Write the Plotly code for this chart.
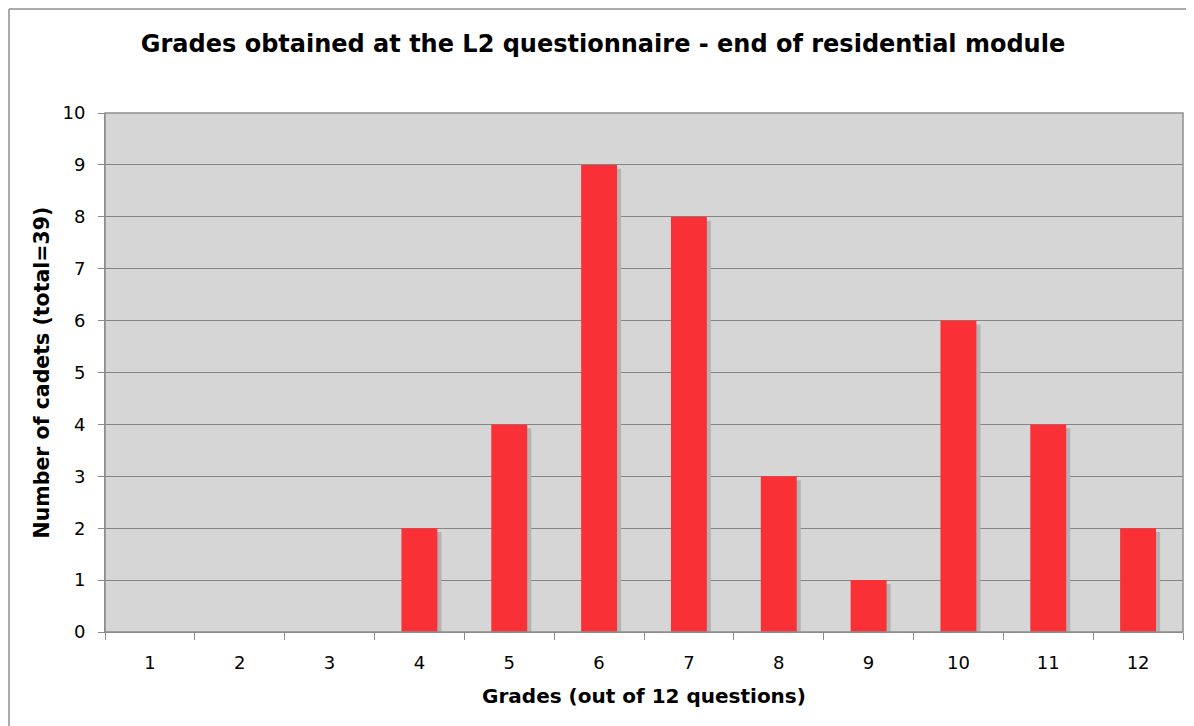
import plotly.graph_objects as go

grades = ["1", "2", "3", "4", "5", "6", "7", "8", "9", "10", "11", "12"]
cadets = [0, 0, 0, 2, 4, 9, 8, 3, 1, 6, 4, 2]
y_ticks = [0, 1, 2, 3, 4, 5, 6, 7, 8, 9, 10]

title_text = "Grades obtained at the L2 questionnaire - end of residential module"
x_title = "Grades (out of 12 questions)"
y_title = "Number of cadets (total=39)"

FONT = "DejaVu Sans"
BAR_RED = "#f93137"
SHADOW = "#b3b3b3"
GRID = "#858585"

W, H = 1186, 718
ML, MR, MT, MB = 97, 11, 105, 94
PW, PH = W - ML - MR, H - MT - MB

fig = go.Figure()

# shadow behind the bars
fig.add_trace(go.Bar(
    x=grades, y=cadets, base=-0.075,
    width=0.4, offset=-0.2 + 0.045,
    marker=dict(color=SHADOW, line=dict(width=0)),
    hoverinfo="skip", showlegend=False,
))
fig.add_trace(go.Bar(
    x=grades, y=cadets,
    width=0.4, offset=-0.2,
    marker=dict(color=BAR_RED, line=dict(width=0)),
    showlegend=False,
))

fx0 = -(ML - 1) / PW
fy1 = 1 + (MT - 1) / PH

fig.update_layout(
    width=W, height=H,
    barmode="overlay",
    paper_bgcolor="white",
    plot_bgcolor="#d6d6d6",
    margin=dict(l=ML, r=MR, t=MT, b=MB),
    font=dict(family=FONT, color="black", size=18),
    title=dict(text=title_text, x=(603 - 8) / W, xanchor="center",
               yref="container", y=1 - 36 / H, yanchor="middle",
               font=dict(family=FONT, size=24, color="black", weight="bold")),
    shapes=[
        dict(type="rect", xref="paper", yref="paper", x0=0, x1=1, y0=0, y1=1,
             line=dict(color="#8f8f8f", width=1.5), layer="above"),
        dict(type="line", xref="paper", yref="paper", x0=fx0, x1=1.2, y0=fy1, y1=fy1,
             line=dict(color="#8f8f8f", width=1.5)),
        dict(type="line", xref="paper", yref="paper", x0=fx0, x1=fx0, y0=-0.3, y1=fy1,
             line=dict(color="#8f8f8f", width=1.5)),
    ],
)

fig.update_xaxes(
    type="category",
    tickson="boundaries",
    ticks="outside", ticklen=7, tickcolor="#8a8a8a", tickwidth=1,
    showline=True, linecolor="#808080", linewidth=1,
    showgrid=False,
    tickfont=dict(family=FONT, size=18, color="black"),
    ticklabelstandoff=14,
    title=dict(text=x_title, standoff=17,
               font=dict(family=FONT, size=20, color="black", weight="bold")),
)
fig.update_yaxes(
    range=[0, 10],
    tickvals=y_ticks,
    ticks="outside", ticklen=6, tickcolor="#8a8a8a", tickwidth=1,
    showline=True, linecolor="#808080", linewidth=1,
    showgrid=True, gridcolor=GRID, gridwidth=1,
    zeroline=False,
    tickfont=dict(family=FONT, size=18, color="black"),
    ticklabelstandoff=9,
    title=dict(text=y_title, standoff=7,
               font=dict(family=FONT, size=20.5, color="black", weight="bold")),
)

fig.write_html("out.html")
